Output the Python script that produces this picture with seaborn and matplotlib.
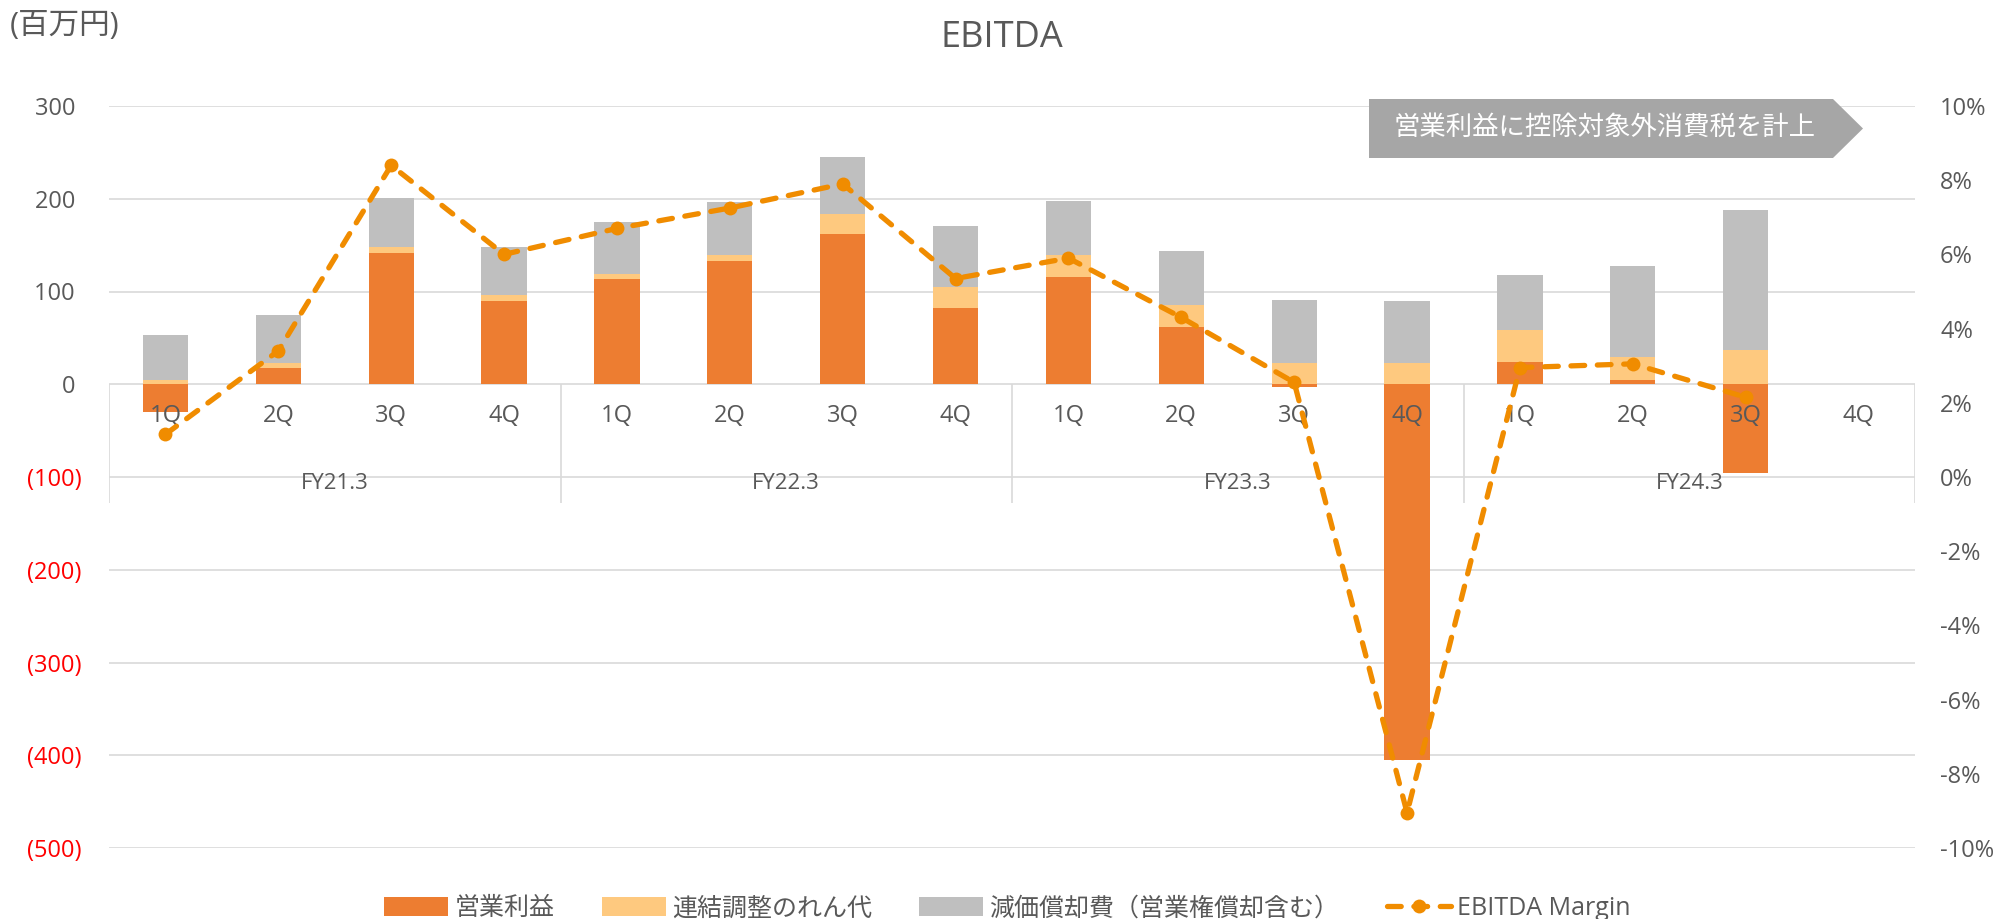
import numpy as np
import pandas as pd
import matplotlib
matplotlib.use("Agg")
import matplotlib.pyplot as plt
import seaborn as sns
from matplotlib.patches import Polygon, Patch
from matplotlib.lines import Line2D

# --- data (百万円, margin in %) ---
fiscal_years = ["FY21.3", "FY22.3", "FY23.3", "FY24.3"]
quarters = ["1Q", "2Q", "3Q", "4Q"]

operating_profit = [-30, 17, 142, 90, 113, 133, 162, 82, 116, 62, -3, -405, 24, 5, -96, np.nan]
goodwill = [5, 6, 6, 6, 6, 6, 22, 23, 23, 23, 23, 23, 34, 24, 37, np.nan]
depreciation = [48, 52, 53, 52, 56, 57, 61, 66, 59, 59, 68, 67, 60, 98, 151, np.nan]
ebitda_margin = [1.15, 3.4, 8.4, 6.0, 6.7, 7.25, 7.9, 5.35, 5.9, 4.3, 2.55, -9.05, 2.95, 3.05, 2.15, np.nan]

left_ticks = [300, 200, 100, 0, -100, -200, -300, -400, -500]
right_ticks = [10, 8, 6, 4, 2, 0, -2, -4, -6, -8, -10]

series_names = ["営業利益", "連結調整のれん代", "減価償却費（営業権償却含む）", "EBITDA Margin"]
note_text = "営業利益に控除対象外消費税を計上"

C_OP = "#ED7D31"
C_GW = "#FEC97F"
C_DEP = "#BFBFBF"
C_LINE = "#F08C00"
C_GRID = "#D9D9D9"
C_TEXT = "#595959"

sns.set_style("white")
plt.rcParams["font.family"] = ["Open Sans", "Noto Sans CJK JP", "DejaVu Sans"]

periods = [f"{fy} {q}" for fy in fiscal_years for q in quarters]
df = pd.DataFrame({
    "period": periods,
    "op": operating_profit,
    "gw": goodwill,
    "dep": depreciation,
    "margin": ebitda_margin,
})
# Excel-style stacking: positives pile up from zero, negatives hang below
pos_op = df["op"].clip(lower=0)
df["top_gw"] = pos_op + df["gw"]
df["top_dep"] = df["top_gw"] + df["dep"]

fig = plt.figure(figsize=(20.15, 9.19), dpi=100)
ax = fig.add_axes([109 / 2015, 71 / 919, 1806 / 2015, 742 / 919])

# gridlines drawn by hand so the tick labels can sit above the bars
for v in left_ticks:
    ax.axhline(v, color=C_GRID, linewidth=1.2, zorder=0.4)

bar_kw = dict(x="period", order=periods, width=0.4, saturation=1, errorbar=None,
              linewidth=0, ax=ax)
sns.barplot(data=df, y="top_dep", color=C_DEP, **bar_kw)
sns.barplot(data=df, y="top_gw", color=C_GW, **bar_kw)
sns.barplot(data=df, y="op", color=C_OP, **bar_kw)

ax.set_axisbelow(False)
ax.grid(False)
ax.set_xlim(-0.5, len(periods) - 0.5)
ax.set_ylim(-500, 300)
ax.set_xlabel("")
ax.set_ylabel("")
ax.set_yticks(left_ticks, [f"{v} " if v >= 0 else f"({-v})" for v in left_ticks])
for lab, v in zip(ax.get_yticklabels(), left_ticks):
    lab.set_color(C_TEXT if v >= 0 else "#FF0000")
ax.tick_params(axis="y", length=0, pad=20, labelsize=17)
for s in ax.spines.values():
    s.set_visible(False)

# multi-level category axis sitting on the zero line
ax.spines["bottom"].set_position(("data", 0))
ax.set_xticks(range(len(periods)), quarters * len(fiscal_years))
ax.tick_params(axis="x", length=0, pad=14, labelsize=17, labelcolor=C_TEXT)
n_q = len(quarters)
ax.vlines([g * n_q - 0.5 for g in range(len(fiscal_years) + 1)], -128, 0,
          color=C_GRID, linewidth=1.2, zorder=0.5)
for g, fy in enumerate(fiscal_years):
    ax.text(g * n_q + (n_q - 1) / 2, -107, fy, ha="center", va="center",
            fontsize=16, color=C_TEXT)

# margin line on secondary axis
line_style = dict(color=C_LINE, linewidth=3.8, linestyle=(0, (2.6, 2.4)),
                  dash_capstyle="round", marker="o", markersize=10, markeredgewidth=0)
ax2 = ax.twinx()
sns.lineplot(x=np.arange(len(periods)), y=df["margin"], ax=ax2, **line_style)
ax2.set_ylim(-10, 10)
ax2.set_yticks(right_ticks, [f"{v}%" for v in right_ticks])
ax2.tick_params(axis="y", length=0, pad=18, labelsize=17, labelcolor=C_TEXT)
ax2.set_ylabel("")
ax2.grid(False)
for s in ax2.spines.values():
    s.set_visible(False)

# title and unit
fig.text(1002 / 2015, 1 - 38 / 919, "EBITDA", ha="center", va="center",
         fontsize=26, color=C_TEXT)
fig.text(10 / 2015, 1 - 26 / 919, "(百万円)", ha="left", va="center",
         fontsize=22, color=C_TEXT)

# note arrow box
x0, x1, xt = 1369 / 2015, 1833 / 2015, 1863 / 2015
yt, yb = 1 - 99 / 919, 1 - 158 / 919
fig.patches.append(Polygon([(x0, yb), (x1, yb), (xt, (yt + yb) / 2), (x1, yt), (x0, yt)],
                           closed=True, transform=fig.transFigure,
                           facecolor="#A6A6A6", edgecolor="none"))
fig.text(1605 / 2015, (yt + yb) / 2, note_text, ha="center", va="center",
         fontsize=19, color="white")

handles = [
    Patch(facecolor=C_OP, edgecolor="none"),
    Patch(facecolor=C_GW, edgecolor="none"),
    Patch(facecolor=C_DEP, edgecolor="none"),
    Line2D([], [], **line_style),
]
fig.legend(handles, series_names, loc="lower center", bbox_to_anchor=(0.5, -0.027),
           ncol=4, frameon=False, fontsize=18, handlelength=2.55, handleheight=0.8,
           columnspacing=1.9, handletextpad=0.25, labelcolor=C_TEXT)

fig.savefig("out.png", dpi=100)
